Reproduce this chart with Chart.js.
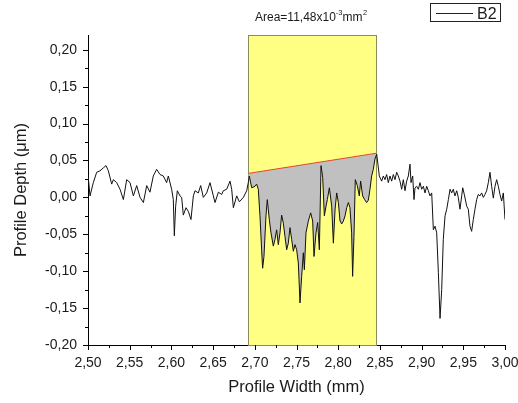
<!DOCTYPE html>
<html>
<head>
<meta charset="utf-8">
<script src="https://cdn.jsdelivr.net/npm/chart.js@4.4.0/dist/chart.umd.min.js"></script>
<style>
  html, body { margin: 0; padding: 0; background: #ffffff; }
  #wrap { width: 518px; height: 403px; }
</style>
</head>
<body>
<div id="wrap"><canvas id="chart" width="518" height="403"></canvas></div>
<script>
// Surface profile B2: position along the profile (mm) and depth (µm)
const profileWidth = [
  2.5000, 2.5024, 2.5064, 2.5104, 2.5144, 2.5184, 2.5216, 2.5244, 2.5284, 2.5304,
  2.5344, 2.5384, 2.5424, 2.5464, 2.5504, 2.5544, 2.5584, 2.5624, 2.5664, 2.5704,
  2.5743, 2.5783, 2.5823, 2.5863, 2.5903, 2.5943, 2.5963, 2.6003, 2.6023, 2.6035,
  2.6051, 2.6071, 2.6103, 2.6123, 2.6143, 2.6175, 2.6203, 2.6235, 2.6263, 2.6283,
  2.6323, 2.6351, 2.6383, 2.6423, 2.6463, 2.6503, 2.6523, 2.6563, 2.6603, 2.6623,
  2.6663, 2.6703, 2.6723, 2.6743, 2.6783, 2.6815, 2.6863, 2.6903,
  2.6922, 2.6934, 2.6963, 2.7002, 2.7022, 2.7042, 2.7062, 2.7082, 2.7094, 2.7110,
  2.7134, 2.7150, 2.7174, 2.7194, 2.7222, 2.7242, 2.7262, 2.7282, 2.7302, 2.7322,
  2.7342, 2.7362, 2.7382, 2.7402, 2.7422, 2.7442, 2.7462, 2.7482, 2.7502, 2.7522,
  2.7542, 2.7562, 2.7582, 2.7594, 2.7614, 2.7642, 2.7670, 2.7694, 2.7710, 2.7734,
  2.7754, 2.7774, 2.7794, 2.7814, 2.7834, 2.7854, 2.7870, 2.7894, 2.7922, 2.7942,
  2.7962, 2.7982, 2.8002, 2.8022, 2.8042, 2.8062, 2.8082, 2.8102, 2.8122, 2.8141,
  2.8161, 2.8173, 2.8189, 2.8205, 2.8229, 2.8253, 2.8269, 2.8293, 2.8317, 2.8341,
  2.8361, 2.8381, 2.8401, 2.8421, 2.8441, 2.8462,
  2.8493, 2.8521, 2.8541, 2.8561, 2.8581, 2.8601, 2.8621, 2.8641, 2.8661, 2.8681,
  2.8701, 2.8721, 2.8741, 2.8761, 2.8781, 2.8801, 2.8821, 2.8841, 2.8861, 2.8873,
  2.8893, 2.8909, 2.8921, 2.8941, 2.8961, 2.8981, 2.9001, 2.9021, 2.9041, 2.9061,
  2.9081, 2.9101, 2.9121, 2.9141, 2.9161, 2.9181, 2.9201, 2.9221, 2.9241, 2.9260,
  2.9281, 2.9301, 2.9321, 2.9341, 2.9361, 2.9380, 2.9400, 2.9421, 2.9440, 2.9460,
  2.9481, 2.9493, 2.9512, 2.9541, 2.9560, 2.9580, 2.9600, 2.9620, 2.9640, 2.9660,
  2.9680, 2.9700, 2.9720, 2.9740, 2.9760, 2.9780, 2.9800, 2.9820, 2.9840, 2.9860,
  2.9880, 2.9900, 2.9920, 2.9940, 2.9960, 2.9980, 2.9990, 3.0000
];
const profileDepth = [
  0.031, 0.002, 0.020, 0.034, 0.036, 0.040, 0.043, 0.036, 0.018, 0.024,
  0.020, 0.011, -0.003, 0.024, 0.020, 0.002, 0.016, 0.000, -0.007, 0.016,
  0.007, 0.029, 0.038, 0.031, 0.029, 0.020, 0.029, 0.011, -0.003, -0.052,
  -0.012, 0.009, 0.002, 0.000, -0.024, -0.014, -0.019, -0.030, 0.002, 0.009,
  0.006, 0.016, 0.000, 0.006, 0.020, 0.002, -0.007, 0.007, 0.004, 0.009,
  0.011, 0.022, 0.011, -0.014, 0.002, -0.006, 0.000, 0.009,
  0.020, 0.029, 0.013, 0.015, 0.018, 0.011, -0.025, -0.071, -0.096, -0.080,
  -0.025, -0.003, -0.030, -0.048, -0.066, -0.057, -0.044, -0.064, -0.048, -0.024,
  -0.035, -0.053, -0.071, -0.062, -0.041, -0.057, -0.073, -0.064, -0.071, -0.089,
  -0.143, -0.107, -0.075, -0.098, -0.048, -0.032, -0.021, -0.032, -0.080, -0.048,
  -0.034, -0.071, 0.043, 0.027, -0.025, -0.012, -0.003, 0.013, -0.012, -0.062,
  -0.017, 0.006, -0.007, -0.032, -0.036, -0.032, -0.025, -0.014, -0.007, -0.014,
  -0.048, -0.107, -0.053, 0.024, 0.016, 0.002, 0.022, 0.002, -0.003, -0.007,
  -0.004, 0.011, 0.029, 0.038, 0.052, 0.0585,
  0.029, 0.022, 0.029, 0.024, 0.031, 0.020, 0.029, 0.022, 0.031, 0.024,
  0.034, 0.029, 0.022, 0.011, 0.024, 0.009, 0.022, 0.029, 0.045, 0.020,
  0.029, -0.003, 0.013, 0.015, 0.011, 0.020, 0.011, 0.015, 0.006, 0.015,
  0.009, 0.002, 0.006, -0.044, -0.039, -0.048, -0.102, -0.164, -0.125, -0.057,
  -0.025, -0.016, -0.003, 0.011, 0.006, 0.011, 0.002, 0.009, 0.000, -0.016,
  0.002, 0.013, 0.004, -0.012, -0.016, -0.039, -0.046, -0.030, -0.016, -0.003,
  0.004, 0.002, 0.006, 0.000, 0.004, 0.009, 0.020, 0.034, 0.015, -0.001,
  0.015, 0.024, 0.015, 0.004, -0.005, 0.006, -0.012, -0.030
];

// Integration window and its straight baseline
const areaStart = 2.6922;
const areaEnd = 2.8462;
const baselineWidth = [2.6922, 2.8462];
const baselineDepth = [0.0325, 0.0599];

// Axis limits and tick spacing
const xRange = [2.50, 3.00];
const yRange = [-0.20, 0.22];
const majorStep = 0.05;
const minorStep = 0.025;

const seriesName = 'B2';
const areaText = ['Area=11,48x10', '-3', 'mm', '2'];

const FONT = '"Liberation Sans", Arial, sans-serif';

const profilePoints = profileWidth.map((x, i) => ({ x, y: profileDepth[i] }));
const areaPoints = profilePoints.filter(p => p.x >= areaStart - 1e-9 && p.x <= areaEnd + 1e-9);
const baselinePoints = baselineWidth.map((x, i) => ({ x, y: baselineDepth[i] }));

function isMajor(v) {
  const k = v / majorStep;
  return Math.abs(k - Math.round(k)) < 1e-6;
}
function fmt(v) {
  if (Math.abs(v) < 1e-9) v = 0;
  return v.toFixed(2).replace('.', ',');
}

// Yellow window behind the curves
const windowPlugin = {
  id: 'windowRect',
  beforeDatasetsDraw(chart) {
    const { ctx, scales: { x, y } } = chart;
    const l = x.getPixelForValue(areaStart);
    const r = x.getPixelForValue(areaEnd);
    const t = y.getPixelForValue(yRange[1]);
    const b = y.getPixelForValue(yRange[0]);
    ctx.save();
    ctx.fillStyle = '#ffff84';
    ctx.fillRect(l, t, r - l, b - t);
    ctx.strokeStyle = '#8c8c5a';
    ctx.lineWidth = 1;
    ctx.strokeRect(Math.round(l) + 0.5, Math.round(t) + 0.5, Math.round(r - l), Math.round(b - t));
    ctx.restore();
  }
};

// Outward major and minor tick marks, area note and legend box
const decorPlugin = {
  id: 'decor',
  afterDraw(chart) {
    const { ctx, scales: { x, y } } = chart;
    ctx.save();
    ctx.strokeStyle = '#000';
    ctx.lineWidth = 1;
    ctx.beginPath();
    x.ticks.forEach(t => {
      const px = Math.round(x.getPixelForValue(t.value)) + 0.5;
      const len = isMajor(t.value) ? 5 : 3;
      ctx.moveTo(px, y.bottom);
      ctx.lineTo(px, y.bottom + len);
    });
    y.ticks.forEach(t => {
      const py = Math.round(y.getPixelForValue(t.value)) + 0.5;
      const len = isMajor(t.value) ? 5 : 3;
      ctx.moveTo(x.left, py);
      ctx.lineTo(x.left - len, py);
    });
    ctx.stroke();

    // Area note with superscripts
    ctx.fillStyle = '#1a1a1a';
    ctx.textBaseline = 'alphabetic';
    ctx.textAlign = 'left';
    let tx = 255;
    const base = 20.5;
    ctx.font = '12px ' + FONT;
    ctx.fillText(areaText[0], tx, base);
    tx += ctx.measureText(areaText[0]).width;
    ctx.font = '7.5px ' + FONT;
    ctx.fillText(areaText[1], tx, base - 5.5);
    tx += ctx.measureText(areaText[1]).width;
    ctx.font = '12px ' + FONT;
    ctx.fillText(areaText[2], tx, base);
    tx += ctx.measureText(areaText[2]).width + 0.5;
    ctx.font = '7.5px ' + FONT;
    ctx.fillText(areaText[3], tx, base - 5.5);

    // Legend box
    ctx.strokeStyle = '#222';
    ctx.lineWidth = 1;
    ctx.strokeRect(430.5, 3.5, 70, 18);
    ctx.beginPath();
    ctx.moveTo(436, 13.5);
    ctx.lineTo(473, 13.5);
    ctx.stroke();
    ctx.font = '16px ' + FONT;
    ctx.fillText(seriesName, 477, 18.5);
    ctx.restore();
  }
};

new Chart(document.getElementById('chart'), {
  type: 'line',
  data: {
    datasets: [
      {
        label: seriesName,
        data: profilePoints,
        borderColor: '#111111',
        borderWidth: 1,
        pointRadius: 0,
        fill: false,
        order: 0
      },
      {
        label: 'baseline',
        data: baselinePoints,
        borderColor: '#e2452a',
        borderWidth: 1,
        pointRadius: 0,
        fill: false,
        order: 1
      },
      {
        label: 'area',
        data: areaPoints,
        borderWidth: 0,
        borderColor: 'rgba(0,0,0,0)',
        backgroundColor: '#c0c0c0',
        pointRadius: 0,
        fill: 1,
        order: 2
      }
    ]
  },
  options: {
    responsive: false,
    animation: false,
    devicePixelRatio: 1,
    layout: { padding: { top: 35, right: 13, left: 0, bottom: 0 } },
    plugins: {
      legend: { display: false },
      tooltip: { enabled: false }
    },
    elements: { line: { tension: 0 } },
    scales: {
      x: {
        type: 'linear',
        min: xRange[0],
        max: xRange[1],
        afterFit(s) { s.height = 58; s.paddingRight = 0; s.paddingLeft = 0; },
        grid: { display: true, drawOnChartArea: false, drawTicks: true, tickLength: 6, tickColor: 'rgba(0,0,0,0)' },
        border: { display: true, color: '#000', width: 1 },
        ticks: {
          stepSize: minorStep,
          autoSkip: false,
          maxRotation: 0,
          includeBounds: false,
          padding: 4,
          color: '#1a1a1a',
          font: { family: FONT, size: 14 },
          callback: v => isMajor(v) ? fmt(v) : ''
        },
        title: {
          display: true,
          text: 'Profile Width (mm)',
          color: '#1a1a1a',
          font: { family: FONT, size: 16.5 },
          padding: { top: 0, bottom: 6 }
        }
      },
      y: {
        type: 'linear',
        min: yRange[0],
        max: yRange[1],
        afterFit(s) { s.width = 88; s.paddingTop = 0; s.paddingBottom = 0; },
        grid: { display: true, drawOnChartArea: false, drawTicks: true, tickLength: 6, tickColor: 'rgba(0,0,0,0)' },
        border: { display: true, color: '#000', width: 1 },
        ticks: {
          stepSize: minorStep,
          autoSkip: false,
          includeBounds: false,
          padding: 5,
          color: '#1a1a1a',
          font: { family: FONT, size: 14 },
          callback: v => isMajor(v) ? fmt(v) : ''
        },
        title: {
          display: true,
          text: 'Profile Depth (μm)',
          color: '#1a1a1a',
          font: { family: FONT, size: 16.5 },
          padding: { top: 12, bottom: 0 }
        }
      }
    }
  },
  plugins: [windowPlugin, decorPlugin]
});
</script>
</body>
</html>
